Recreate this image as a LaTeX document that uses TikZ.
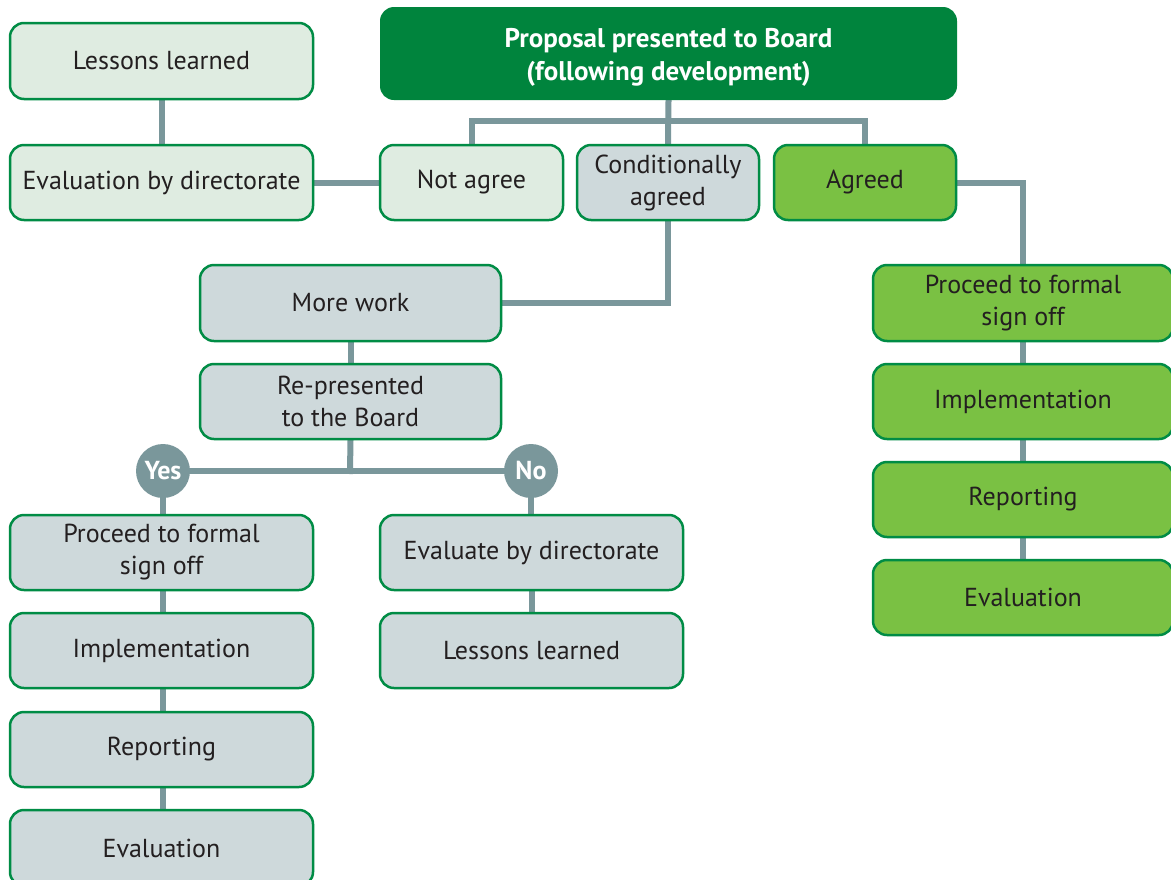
\documentclass[tikz,border=0pt]{standalone}
\usepackage{fontspec}
\setmainfont{PT Sans}
\usetikzlibrary{backgrounds}
\definecolor{bordergreen}{HTML}{008C45}
\definecolor{darkgreen}{HTML}{00843D}
\definecolor{lightgreen}{HTML}{DFECE1}
\definecolor{greyblue}{HTML}{CED9DB}
\definecolor{brightgreen}{HTML}{7AC143}
\definecolor{conncol}{HTML}{7A979B}
\definecolor{txt}{HTML}{231F20}
\begin{document}
\begin{tikzpicture}[x=1pt,y=-1pt,
  box/.style={draw=bordergreen, line width=2.5pt, rounded corners=14pt,
    minimum width=303pt, minimum height=76pt, align=center, text=txt,
    inner sep=0pt, font=\fontsize{26}{32}\selectfont},
  lg/.style={box, fill=lightgreen},
  gb/.style={box, fill=greyblue},
  bg/.style={box, fill=brightgreen},
  conn/.style={draw=conncol, line width=6pt, line cap=rect},
  yn/.style={circle, fill=conncol, minimum size=54pt, inner sep=0pt,
    text=white, font=\bfseries\fontsize{26}{30}\selectfont}]
\useasboundingbox (0,0) rectangle (1171,879);
\node[box, draw=none, fill=darkgreen, minimum width=577pt, minimum height=93pt,
  text=white, font=\bfseries\fontsize{27}{33}\selectfont] (prop) at (668.5,53.5)
  {\raisebox{-4pt}[\height][\depth]{\parbox{560pt}{\centering Proposal presented to Board\\(following development)}}};
\node[lg] (ll1) at (161.5,61) {Lessons learned};
\node[lg, minimum height=75pt] (ed1) at (161.5,182.5) {Evaluation by directorate};
\node[lg, minimum width=183pt, minimum height=75pt] (na) at (471.5,182.5) {Not agree};
\node[gb, minimum width=182pt, minimum height=75pt] (cond) at (668,182.5) {Conditionally\\agreed};
\node[bg, minimum width=182pt, minimum height=75pt] (ag) at (865,182.5) {Agreed};
\node[gb, minimum width=301pt] (mw) at (350.5,303) {More work};
\node[gb, minimum width=301pt, minimum height=75pt] (rp) at (350.5,401.5) {Re-presented\\to the Board};
\node[yn] (yes) at (163,471) {Yes};
\node[yn] (no) at (531,471) {No};
\node[gb, minimum height=75pt] (lp) at (161.5,552.5) {Proceed to formal\\sign off};
\node[gb, minimum height=75pt] (li) at (161.5,650.5) {Implementation};
\node[gb, minimum height=75pt] (lr) at (161.5,749.5) {Reporting};
\node[gb] (le) at (161.5,848) {Evaluation};
\node[gb, minimum height=75pt] (ned) at (531.5,552.5) {Evaluate by directorate};
\node[gb, minimum height=75pt] (nll) at (531.5,650.5) {Lessons learned};
\node[bg, minimum width=300pt] (rps) at (1023,303) {Proceed to formal\\sign off};
\node[bg, minimum width=300pt, minimum height=75pt] (ri) at (1023,401.5) {Implementation};
\node[bg, minimum width=300pt, minimum height=75pt] (rr) at (1023,499.5) {Reporting};
\node[bg, minimum width=300pt, minimum height=75pt] (re) at (1023,597.5) {Evaluation};
\coordinate (j1) at (668,121);
\coordinate (j2) at (350,471);
\begin{pgfonlayer}{background}
\fill[white] (0,0) rectangle (1171,879);
\draw[conn] (prop.south) -- (cond.north);
\draw[conn] (na.north) |- (j1) -| (ag.north);
\draw[conn] (ll1.south) -- (ed1.north);
\draw[conn] (ed1.east) -- (na.west);
\draw[conn] (ag.east) -| (rps.north);
\draw[conn] (rps.south) -- (ri.north);
\draw[conn] (ri.south) -- (rr.north);
\draw[conn] (rr.south) -- (re.north);
\draw[conn] (cond.south) |- (mw.east);
\draw[conn] (mw.south) -- (rp.north);
\draw[conn] (rp.south) -- (j2);
\draw[conn] (yes.east) -- (no.west);
\draw[conn] (yes.south) -- (yes.south |- lp.north);
\draw[conn] (no.south) -- (no.south |- ned.north);
\draw[conn] (lp.south -| yes.south) -- (li.north -| yes.south);
\draw[conn] (li.south -| yes.south) -- (lr.north -| yes.south);
\draw[conn] (lr.south -| yes.south) -- (le.north -| yes.south);
\draw[conn] (ned.south) -- (nll.north);
\end{pgfonlayer}
\end{tikzpicture}
\end{document}
